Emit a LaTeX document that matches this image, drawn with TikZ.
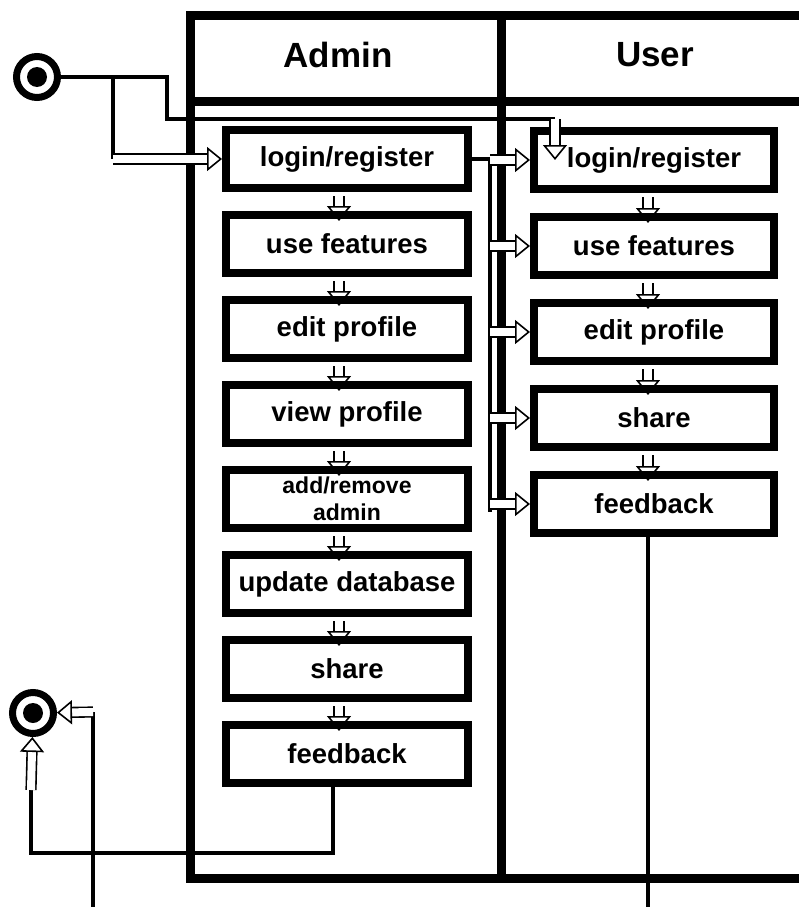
\documentclass[tikz,border=0pt]{standalone}
\usepackage{fontspec}
\setmainfont{Liberation Sans}
\usetikzlibrary{positioning,arrows.meta}

\begin{document}
\begin{tikzpicture}[x=1pt,y=-1pt]
\tikzstyle{lane}=[line width=9pt]
\tikzstyle{act}=[rectangle, draw, line width=8pt, minimum width=242pt,
	minimum height=58pt, inner sep=2pt,
	font=\fontsize{27.5}{29}\selectfont\bfseries]
\tikzstyle{head}=[font=\fontsize{35}{38}\selectfont\bfseries]
\tikzstyle{flow}=[line width=4pt]
\tikzstyle{harrow}=[double, line width=1.6pt, double distance=8pt,
	-{Triangle[open,length=15pt,width=24pt,line width=1.6pt]}]
\tikzstyle{terminal}=[circle, draw, line width=7pt, minimum size=41pt,
	inner sep=0pt,
	path picture={\fill (path picture bounding box.center) circle (10pt);}]
\useasboundingbox (0,0) rectangle (798,907);
\draw[lane] (190,16) rectangle (820,878);
\draw[lane] (190,101) -- (820,101);
\draw[lane] (501,16) -- (501,878);
\node[head] (adminhead) at (338,55) {Admin};
\node[head] (userhead) at (655,55) {User};
\node[terminal] (start) at (37,77) {};
\node[terminal] (final) at (33,713) {};
\node[act] (alogin) at (347,159) {login/register};
\node[act, below=19pt of alogin] (afeat) {use features};
\node[act, below=19pt of afeat] (aedit) {edit profile};
\node[act, below=19pt of aedit] (aview) {view profile};
\node[act, below=19pt of aview, align=center,
	font=\fontsize{23}{27}\selectfont\bfseries] (aadd) {add/remove\\admin};
\node[act, below=19pt of aadd] (aupd) {update database};
\node[act, below=19pt of aupd] (ashare) {share};
\node[act, below=19pt of ashare] (afeed) {feedback};
\node[act, minimum width=240pt] (ulogin) at (654,160) {login/register};
\node[act, minimum width=240pt, below=20pt of ulogin] (ufeat) {use features};
\node[act, minimum width=240pt, below=20pt of ufeat] (uedit) {edit profile};
\node[act, minimum width=240pt, below=20pt of uedit] (ushare) {share};
\node[act, minimum width=240pt, below=20pt of ushare] (ufeed) {feedback};
\coordinate (fork) at (113,77);
\coordinate (lbend) at (113,159);
\coordinate (ubend) at (555,119);
\coordinate (utip) at (555,160);
\coordinate (bustop) at (490,159);
\coordinate (busbot) at (490,512);
\coordinate (fdown) at (333,853);
\coordinate (fup) at (31,790);
\coordinate (inbend) at (93,712);
\coordinate (offa) at (93,907);
\coordinate (offu) at (648,907);
\draw[flow] (start) -- (fork) -| (167,119) -- (ubend);
\draw[flow] (fork) -- (lbend);
\draw[harrow] (lbend) -- (alogin);
\draw[harrow] (ubend) -- (utip);
\foreach \a/\b in {alogin/afeat, afeat/aedit, aedit/aview, aview/aadd,
	aadd/aupd, aupd/ashare, ashare/afeed}
	\draw[harrow, shorten <=4pt, shorten >=-10pt]
		([xshift=-8pt]\a.south) -- ([xshift=-8pt]\b.north);
\foreach \a/\b in {ulogin/ufeat, ufeat/uedit, uedit/ushare, ushare/ufeed}
	\draw[harrow, shorten <=4pt, shorten >=-10pt]
		([xshift=-6pt]\a.south) -- ([xshift=-6pt]\b.north);
\draw[flow] (alogin) -- (bustop) -- (busbot);
\foreach \u in {ulogin, ufeat, uedit, ushare, ufeed}
	\draw[harrow] (\u.west -| bustop) -- (\u.west);
\draw[flow] ([xshift=-14pt]afeed.south) -- (fdown) -| (fup);
\draw[harrow] (fup) -- (final);
\draw[flow] (offa) -- (inbend);
\draw[harrow] (inbend) -- (final);
\draw[flow] (ufeed.south -| offu) -- (offu);
\end{tikzpicture}
\end{document}
